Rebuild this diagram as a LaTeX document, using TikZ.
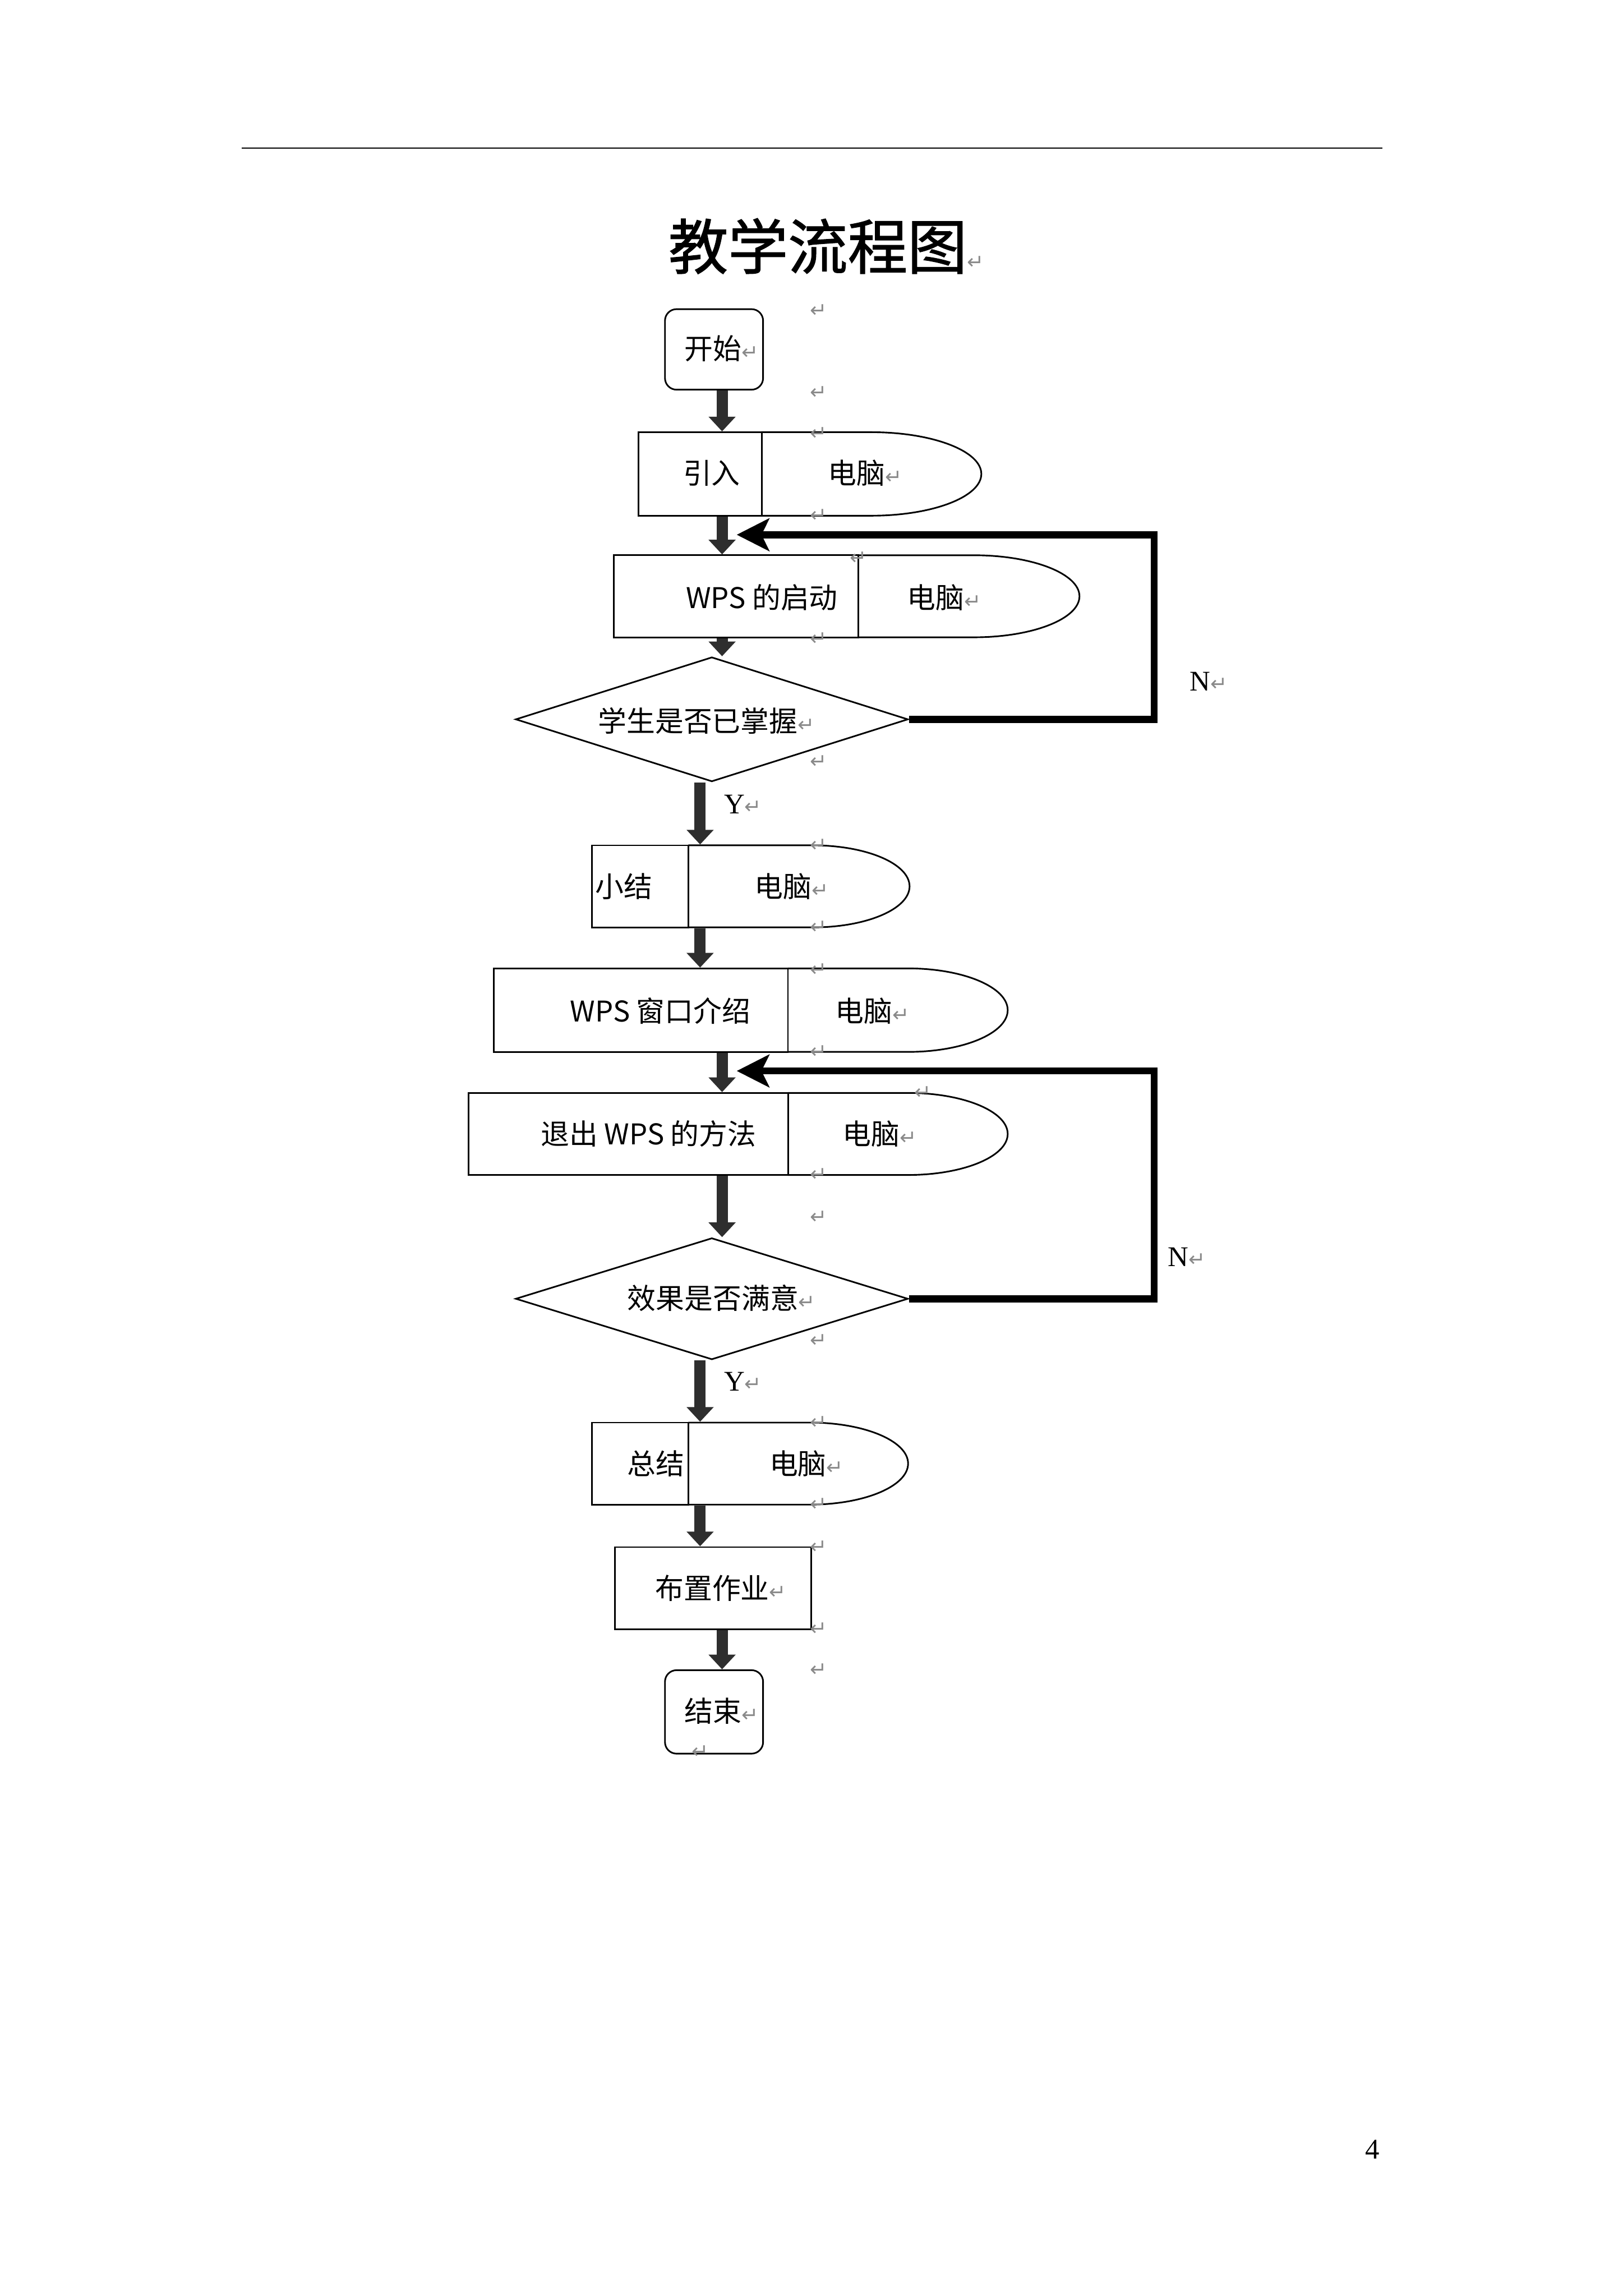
\documentclass[tikz,border=0pt]{standalone}
\usepackage{fontspec}
\setmainfont{Noto Sans CJK SC}
\newfontfamily\titlefont[FakeBold=1.2]{Noto Sans CJK SC}
\newfontfamily\pmfont{DejaVu Sans}
\newfontfamily\latinserif{Liberation Serif}
\usetikzlibrary{arrows.meta,shapes.geometric}
\definecolor{arrowgray}{HTML}{2E2E2E}
\definecolor{pmgray}{HTML}{8A8A8A}
\newcommand{\pmk}{{\pmfont\fontsize{7.5}{8}\selectfont\textcolor{pmgray}{↵}}}
\newcommand{\drawdshape}[5]{%
  \pgfmathsetmacro\dmid{(#4+#5)/2}%
  \pgfmathsetmacro\drx{0.5523*(#3-#2)}%
  \pgfmathsetmacro\dry{0.5523*(#5-#4)/2}%
  \draw[line width=0.6pt] (#1,#4) -- (#2,#4)
     .. controls ({#2+\drx},#4) and (#3,{\dmid-\dry}) .. (#3,\dmid)
     .. controls (#3,{\dmid+\dry}) and ({#2+\drx},#5) .. (#2,#5) -- (#1,#5);
}
\tikzset{
  rbox/.style={draw=black, line width=0.6pt, inner sep=0pt},
  rrbox/.style={rbox, rounded corners=1.5mm},
  dia/.style={draw=black, diamond, line width=0.6pt, inner sep=0pt},
  txt/.style={font=\fontsize{10.5}{12}\selectfont, inner sep=0pt, anchor=west},
  lbl/.style={font=\latinserif\fontsize{10.5}{12}\selectfont, inner sep=0pt, anchor=west},
  pm/.style={inner sep=0pt},
  flow/.style={draw=arrowgray, line width=1.45mm, -{Triangle[width=3.4mm,length=1.9mm]}},
  fb/.style={draw=black, line width=2.6pt, line join=miter, -{Stealth[length=4.2mm,width=4.2mm,inset=1mm]}},
  hdr/.style={draw=black, line width=0.5pt},
}
\begin{document}
\begin{tikzpicture}[x=0.018951cm, y=-0.018951cm]
\useasboundingbox (0,0) rectangle (1108.1,1567.2);
% header rule
\coordinate (hl) at (165,101);
\coordinate (hr) at (944,101);
\draw[hdr] (hl) -- (hr);
\node[font=\titlefont\fontsize{22}{26}\selectfont, anchor=west, inner sep=0pt] (title) at (456,168) {教学流程图\pmk};

% boxes
\node[rrbox, minimum width=1.2695cm, minimum height=1.042cm] (kaishi) at (487.5,238.5) {};
\node[rbox, minimum width=1.592cm, minimum height=1.080cm] (yinru) at (478,323.5) {};
\drawdshape{520}{595}{670}{295}{352}
\node[rbox, minimum width=3.164cm, minimum height=1.061cm] (qidong) at (502.5,407) {};
\drawdshape{586}{665}{737}{379}{435}
\node[dia, minimum width=5.078cm, minimum height=1.611cm] (dia1) at (486,491) {};
\node[rbox, minimum width=1.251cm, minimum height=1.061cm] (xiaojie) at (437,605) {};
\drawdshape{470}{555}{621}{577}{633}
\node[rbox, minimum width=3.808cm, minimum height=1.080cm] (chuangkou) at (437.5,689.5) {};
\drawdshape{538}{620}{688}{661}{718}
\node[rbox, minimum width=4.131cm, minimum height=1.061cm] (tuichu) at (429,774) {};
\drawdshape{538}{620}{688}{746}{802}
\node[dia, minimum width=5.078cm, minimum height=1.573cm] (dia2) at (486,886.5) {};
\node[rbox, minimum width=1.251cm, minimum height=1.061cm] (zongjie) at (437,999) {};
\drawdshape{470}{553}{620}{971}{1027}
\node[rbox, minimum width=2.539cm, minimum height=1.061cm] (buzhi) at (487,1084) {};
\node[rrbox, minimum width=1.2695cm, minimum height=1.080cm] (jieshu) at (487.5,1168.5) {};

% flow arrows
\coordinate (colA) at (493,0);
\coordinate (colB) at (478,0);
\draw[flow] (kaishi.south -| colA) -- (yinru.north -| colA);
\draw[flow] (yinru.south -| colA) -- (qidong.north -| colA);
\draw[flow] (qidong.south -| colA) -- (dia1.north -| colA);
\draw[flow] (dia1.south -| colB) -- (xiaojie.north -| colB);
\draw[flow] (xiaojie.south -| colB) -- (chuangkou.north -| colB);
\draw[flow] (chuangkou.south -| colA) -- (tuichu.north -| colA);
\draw[flow] (tuichu.south -| colA) -- (dia2.north -| colA);
\draw[flow] (dia2.south -| colB) -- (zongjie.north -| colB);
\draw[flow] (zongjie.south -| colB) -- (buzhi.north -| colB);
\draw[flow] (buzhi.south -| colA) -- (jieshu.north -| colA);

% feedback loops
\coordinate (fbx) at (788,0);
\coordinate (tip1) at (503,365);
\coordinate (tip2) at (503,731);
\draw[fb] (dia1.east) -| (fbx |- tip1) -- (tip1);
\draw[fb] (dia2.east) -| (fbx |- tip2) -- (tip2);

% texts
\node[txt] (t1) at (467,238) {开始\pmk};
\node[txt] (t2) at (466,323) {引入};
\node[txt] (t2r) at (565,323) {电脑\pmk};
\node[txt] (t3) at (468,408) {WPS 的启动};
\node[txt] (t3r) at (619,408) {电脑\pmk};
\node[txt] (t4) at (408,492) {学生是否已掌握\pmk};
\node[txt] (t5) at (406,605) {小结};
\node[txt] (t5r) at (515,605) {电脑\pmk};
\node[txt] (t6) at (389,690) {WPS 窗口介绍};
\node[txt] (t6r) at (570,690) {电脑\pmk};
\node[txt] (t7) at (369,774) {退出 WPS 的方法};
\node[txt] (t7r) at (575,774) {电脑\pmk};
\node[txt] (t8) at (428,886) {效果是否满意\pmk};
\node[txt] (t9) at (428,999) {总结};
\node[txt] (t9r) at (525,999) {电脑\pmk};
\node[txt] (t10) at (447,1084) {布置作业\pmk};
\node[txt] (t11) at (467,1168) {结束\pmk};

% branch labels
\node[lbl] (y1) at (494,549) {Y\pmk};
\node[lbl] (y2) at (494,943) {Y\pmk};
\node[lbl] (n1) at (812,465) {N\pmk};
\node[lbl] (n2) at (797,858) {N\pmk};

% paragraph marks
\foreach \px/\py [count=\i] in {559/212, 559/268, 559/296, 559/352, 586/381, 559/436, 559/520, 559/577, 559/633, 559/662, 559/718, 630/746, 559/802, 559/831, 559/915, 559/971, 559/1027, 559/1056, 559/1112, 559/1140, 478/1196}
  \node[pm] (pm\i) at (\px,\py) {\pmk};

% page number
\node[font=\latinserif\fontsize{10.5}{12}\selectfont, inner sep=0pt] (pageno) at (937,1467) {4};
\end{tikzpicture}
\end{document}
